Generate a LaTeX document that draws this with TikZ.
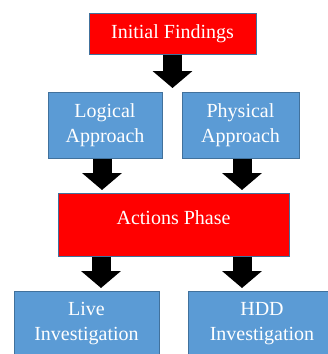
\documentclass[tikz,border=0pt]{standalone}
\usepackage{fontspec}
\setmainfont{Liberation Serif}
\usetikzlibrary{arrows.meta}
\definecolor{boxred}{HTML}{FF0000}
\definecolor{boxblue}{HTML}{5B9BD5}
\definecolor{boxedge}{HTML}{41719C}
\begin{document}
\begin{tikzpicture}[x=1pt,y=-1pt,
  box/.style={draw=boxedge, line width=1pt, text=white,
    font=\fontsize{20}{25}\selectfont, align=center, inner sep=0pt},
  redbox/.style={box, fill=boxred},
  bluebox/.style={box, fill=boxblue},
  boxtext/.style={text=white, font=\fontsize{20}{25}\selectfont, align=center, inner sep=0pt},
  bigarrow/.style={draw=black, line width=19pt,
    -{Triangle[width=39pt,length=17pt]}}]
\fill[white] (0,0) rectangle (328,354);
\clip (0,0) rectangle (328,354);
\node[redbox, minimum width=167pt, minimum height=41pt] (init) at (172.5,33.5) {Initial Findings};
\node[bluebox, minimum width=114pt, minimum height=66pt] (logical) at (105,125) {Logical\\Approach};
\node[bluebox, minimum width=117pt, minimum height=66pt] (physical) at (240.5,125) {Physical\\Approach};
\node[redbox, minimum width=231pt, minimum height=63pt] (actions) at (173.5,224.5) {};
\node[boxtext] (actionstext) at (173.5,218) {Actions Phase};
\node[bluebox, minimum width=145pt, minimum height=66pt] (live) at (86.5,324) {Live\\Investigation};
\node[bluebox, minimum width=148pt, minimum height=66pt] (hdd) at (262,324) {HDD\\Investigation};
\coordinate (t1) at (172.5,88);
\coordinate (t2) at (102,190);
\coordinate (t3) at (242,190);
\coordinate (t4) at (101,288);
\coordinate (t5) at (242,288);
\draw[bigarrow] (init.south -| t1) -- (t1);
\draw[bigarrow] (logical.south -| t2) -- (t2);
\draw[bigarrow] (physical.south -| t3) -- (t3);
\draw[bigarrow] (actions.south -| t4) -- (t4);
\draw[bigarrow] (actions.south -| t5) -- (t5);
\end{tikzpicture}
\end{document}
